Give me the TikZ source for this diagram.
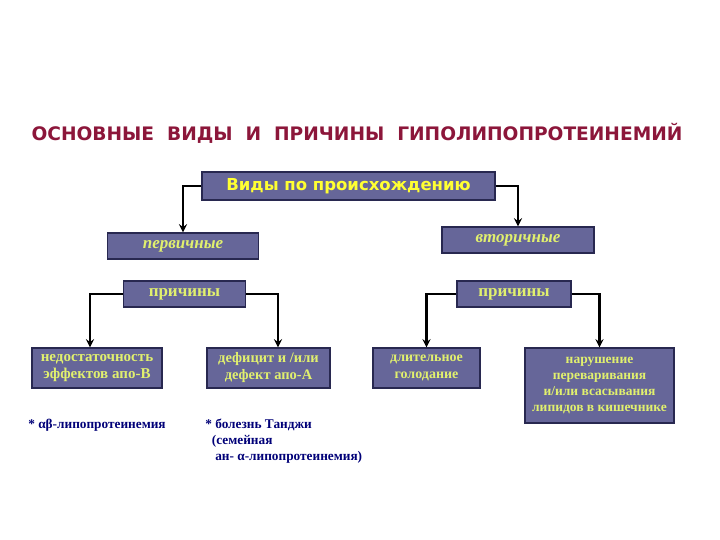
\documentclass[tikz,border=0pt]{standalone}
\usepackage{fontspec}
\setmainfont{Liberation Serif}
\newfontfamily\headfont{DejaVu Sans}
\usepackage{xcolor}
\definecolor{titlered}{RGB}{140,22,58}
\definecolor{boxfill}{RGB}{102,102,153}
\definecolor{boxedge}{RGB}{40,40,80}
\definecolor{boxtext}{RGB}{225,240,110}
\definecolor{toptext}{RGB}{255,255,50}
\definecolor{notetext}{RGB}{0,0,120}

\tikzset{
  box/.style={draw=boxedge, fill=boxfill, line width=1.2pt, inner sep=0pt,
              text=boxtext, font=\bfseries\fontsize{14.5}{17}\selectfont, align=center},
  note/.style={text=notetext, font=\bfseries\fontsize{13.3}{16}\selectfont, align=left, inner sep=0pt},
}

\begin{document}
\begin{tikzpicture}[>=stealth, x=1pt, y=-1pt, line width=2.6pt]
    \useasboundingbox[fill=white] (0,0) rectangle (720,540);
    \node[text=titlered, font=\headfont\bfseries\fontsize{18.6}{20}\selectfont] (title) at (357,133)
        {ОСНОВНЫЕ\ \ ВИДЫ\ \ И\ \ ПРИЧИНЫ\ \ ГИПОЛИПОПРОТЕИНЕМИЙ};
    \node[box, minimum width=293pt, minimum height=28pt, text=toptext,
          font=\headfont\bfseries\fontsize{16.5}{18}\selectfont] (top) at (348.5,186) {Виды по происхождению};
    \node[box, minimum width=151pt, minimum height=26pt, font=\bfseries\itshape\fontsize{17}{18}\selectfont] (prim) at (183,246) {первичные};
    \node[box, minimum width=152pt, minimum height=26pt, font=\bfseries\itshape\fontsize{17}{18}\selectfont] (sec) at (518,240) {вторичные};
    \node[box, minimum width=122pt, minimum height=26pt, font=\bfseries\fontsize{17}{18}\selectfont] (prc1) at (184.5,294) {причины};
    \node[box, minimum width=114pt, minimum height=26pt, font=\bfseries\fontsize{17}{18}\selectfont] (prc2) at (514,294) {причины};
    \node[box, minimum width=130pt, minimum height=40pt, font=\bfseries\fontsize{15}{17}\selectfont] (b1) at (97,368) {недостаточность\\эффектов апо-В};
    \node[box, minimum width=123pt, minimum height=40pt] (b2) at (268.5,368) {дефицит и /или\\дефект апо-А};
    \node[box, minimum width=107pt, minimum height=40pt, font=\bfseries\fontsize{14}{17}\selectfont] (b3) at (426.5,368) {длительное\\голодание};
    \node[box, minimum width=149pt, minimum height=75pt, font=\bfseries\fontsize{13.5}{16.2}\selectfont] (b4) at (599.5,385.5)
        {нарушение\\переваривания\\и/или всасывания\\липидов в кишечнике};
    \node[note, anchor=west] (n1) at (27,425) {* αβ-липопротеинемия};
    \node[note, anchor=north west] (n2) at (204,418)
        {* болезнь Танджи\\\ \ (семейная\\\ \ \ ан- α-липопротеинемия)};
    \draw[->] (top.west) -| (prim.north);
    \draw[->] (top.east) -| (sec.north);
    \draw[->] (prc1.west) -| ([xshift=-7pt]b1.north);
    \draw[->] (prc1.east) -| ([xshift=9.5pt]b2.north);
    \draw[->] (prc2.west) -| (b3.north);
    \draw[->] (prc2.east) -| (b4.north);
\end{tikzpicture}
\end{document}
